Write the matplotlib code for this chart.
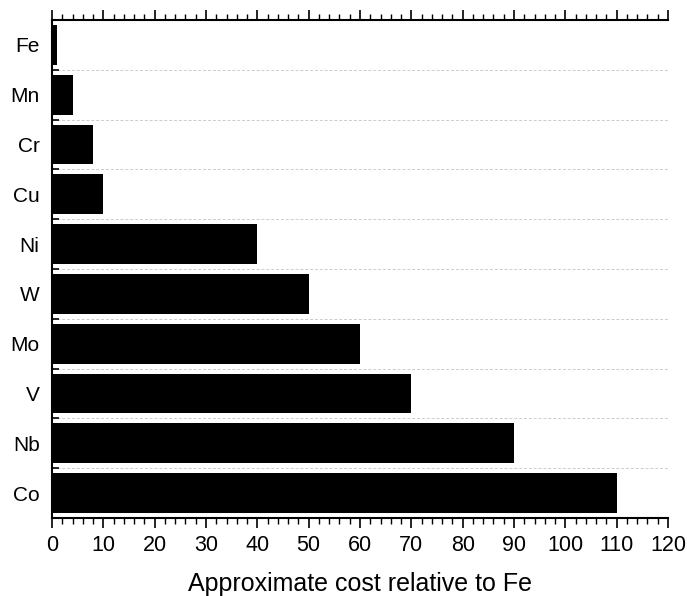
import matplotlib
matplotlib.use("Agg")
import matplotlib.pyplot as plt
from matplotlib.ticker import MultipleLocator, FixedLocator

plt.rcParams['font.family'] = ['Liberation Sans', 'DejaVu Sans']

elements = ["Fe", "Mn", "Cr", "Cu", "Ni", "W", "Mo", "V", "Nb", "Co"]
costs = [1, 4, 8, 10, 40, 50, 60, 70, 90, 110]
xlabel = "Approximate cost relative to Fe"

fig = plt.figure(figsize=(6.87, 5.96), dpi=100)
ax = fig.add_axes([52/687, 1-518/596, (668-52)/687, (518-20)/596])

pos = list(range(len(elements)))
ax.barh(pos, costs, height=0.8, color='black', zorder=3)
ax.set_ylim(len(elements)-0.5, -0.5)
ax.set_xlim(0, 120)

# y ticks: labels at centres, tick marks at boundaries
ax.set_yticks(pos)
ax.set_yticklabels(elements, fontsize=15)
ax.tick_params(axis='y', which='major', length=0, pad=9)
bounds = [i + 0.5 for i in range(len(elements))]
ax.yaxis.set_minor_locator(FixedLocator(bounds))
ax.tick_params(axis='y', which='minor', direction='in', length=5, width=1.2, left=True, right=False)
for b in bounds[:-1]:
    ax.axhline(b, color='#cccccc', lw=0.7, ls=(0, (3, 2)), zorder=1)

ax.xaxis.set_major_locator(MultipleLocator(10))
ax.xaxis.set_minor_locator(MultipleLocator(2))
ax.tick_params(axis='x', which='major', direction='out', length=7, width=1.2,
               labelsize=15.5, top=True, bottom=True, pad=5)
ax.tick_params(axis='x', which='minor', direction='out', length=4, width=1.0,
               top=True, bottom=True)
ax.set_xlabel(xlabel, fontsize=18, labelpad=12)

for s in ['left', 'top', 'bottom']:
    ax.spines[s].set_linewidth(1.5)
ax.spines['right'].set_visible(False)

fig.savefig("out.png", dpi=100)
